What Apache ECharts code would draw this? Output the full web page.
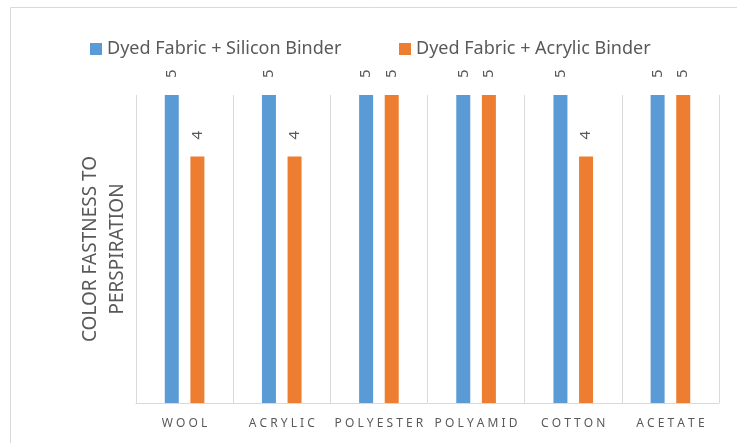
<!DOCTYPE html>
<html>
<head>
<meta charset="utf-8">
<title>Color fastness to perspiration</title>
<script src="https://cdn.jsdelivr.net/npm/echarts@6/dist/echarts.min.js"></script>
<style>
  html, body { margin: 0; padding: 0; background: #ffffff; }
  #chart { width: 737px; height: 443px; }
</style>
</head>
<body>
<div id="chart"></div>
<script>
// Fabric types along the category axis
const categories = ['WOOL', 'ACRYLIC', 'POLYESTER', 'POLYAMID', 'COTTON', 'ACETATE'];

// Fastness grades for each finish
const siliconBinder = [5, 5, 5, 5, 5, 5];
const acrylicBinder = [4, 4, 5, 5, 4, 5];

const seriesNames = ['Dyed Fabric + Silicon Binder', 'Dyed Fabric + Acrylic Binder'];
const axisTitle = 'COLOR FASTNESS TO\nPERSPIRATION';

const FONT = '"Noto Sans", "Open Sans", sans-serif';
const TEXT = '#595959';
const GRID_LINE = '#d9d9d9';

const barLabel = {
  show: true,
  position: 'top',
  distance: 17,
  rotate: 90,
  align: 'left',
  verticalAlign: 'middle',
  color: TEXT,
  fontSize: 15,
  fontFamily: FONT
};

const legendText = { color: TEXT, fontSize: 18, fontFamily: FONT };

const chart = echarts.init(document.getElementById('chart'), null, { renderer: 'canvas' });

chart.setOption({
  animation: false,
  backgroundColor: '#ffffff',
  graphic: [{
    type: 'rect',
    silent: true,
    shape: { x: 10.5, y: 7.5, width: 780, height: 480 },
    style: { fill: 'none', stroke: GRID_LINE, lineWidth: 1 }
  }],
  legend: [
    {
      data: [seriesNames[0]],
      left: 85, top: 35,
      itemWidth: 12, itemHeight: 12,
      icon: 'rect',
      textStyle: legendText
    },
    {
      data: [seriesNames[1]],
      left: 394, top: 35,
      itemWidth: 12, itemHeight: 12,
      icon: 'rect',
      textStyle: legendText
    }
  ],
  grid: { left: 136, right: 18, top: 95, bottom: 40, containLabel: false },
  xAxis: {
    type: 'category',
    data: categories,
    boundaryGap: true,
    axisLine: { show: true, lineStyle: { color: GRID_LINE, width: 1 } },
    axisTick: { show: false, interval: 0 },
    splitLine: { show: true, interval: 0, lineStyle: { color: GRID_LINE, width: 1 } },
    axisLabel: {
      interval: 0,
      color: TEXT,
      fontSize: 12,
      fontFamily: FONT,
      margin: 15,
      formatter: function (v) { return v.split('').join(' '); }
    }
  },
  yAxis: {
    type: 'value',
    min: 0,
    max: 5,
    name: axisTitle,
    nameLocation: 'middle',
    nameRotate: 90,
    nameGap: 5,
    nameTextStyle: { color: TEXT, fontSize: 19, fontFamily: FONT, lineHeight: 27 },
    axisLine: { show: false },
    axisTick: { show: false },
    axisLabel: { show: false },
    splitLine: { show: false }
  },
  series: [
    {
      name: seriesNames[0],
      type: 'bar',
      data: siliconBinder,
      barWidth: 14,
      barGap: '83%',
      itemStyle: { color: '#5b9bd5' },
      label: barLabel
    },
    {
      name: seriesNames[1],
      type: 'bar',
      data: acrylicBinder,
      barWidth: 14,
      itemStyle: { color: '#ed7d31' },
      label: barLabel
    }
  ]
});
</script>
</body>
</html>
